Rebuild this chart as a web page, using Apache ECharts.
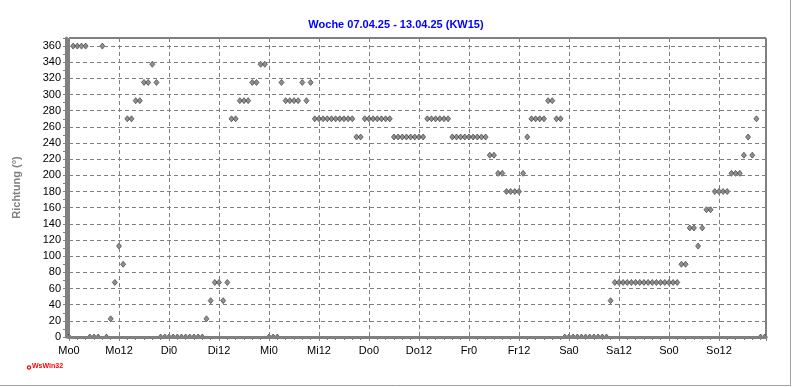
<!DOCTYPE html>
<html>
<head>
<meta charset="utf-8">
<script src="https://cdn.jsdelivr.net/npm/echarts@6/dist/echarts.min.js"></script>
<style>
html,body{margin:0;padding:0;background:#fff;}
#chart{width:792px;height:387px;}
</style>
</head>
<body>
<div id="chart"></div>
<script>
// Title and axis texts
const titleText = 'Woche 07.04.25 - 13.04.25 (KW15)';
const yAxisName = 'Richtung (°)';
// X tick labels every 12 hours (hour 0 = Mo 00:00)
const xTickLabels = ['Mo0','Mo12','Di0','Di12','Mi0','Mi12','Do0','Do12','Fr0','Fr12','Sa0','Sa12','So0','So12'];
// Hourly wind direction (°), hours 0..167
const direction = [
  0, 360, 360, 360, 360, 0, 0, 0, 360, 0,
  22.5, 67.5, 112.5, 90, 270, 270, 292.5, 292.5, 315, 315,
  337.5, 315, 0, 0, 0, 0, 0, 0, 0, 0,
  0, 0, 0, 22.5, 45, 67.5, 67.5, 45, 67.5, 270,
  270, 292.5, 292.5, 292.5, 315, 315, 337.5, 337.5, 0, 0,
  0, 315, 292.5, 292.5, 292.5, 292.5, 315, 292.5, 315, 270,
  270, 270, 270, 270, 270, 270, 270, 270, 270, 247.5,
  247.5, 270, 270, 270, 270, 270, 270, 270, 247.5, 247.5,
  247.5, 247.5, 247.5, 247.5, 247.5, 247.5, 270, 270, 270, 270,
  270, 270, 247.5, 247.5, 247.5, 247.5, 247.5, 247.5, 247.5, 247.5,
  247.5, 225, 225, 202.5, 202.5, 180, 180, 180, 180, 202.5,
  247.5, 270, 270, 270, 270, 292.5, 292.5, 270, 270, 0,
  0, 0, 0, 0, 0, 0, 0, 0, 0, 0,
  45, 67.5, 67.5, 67.5, 67.5, 67.5, 67.5, 67.5, 67.5, 67.5,
  67.5, 67.5, 67.5, 67.5, 67.5, 67.5, 67.5, 90, 90, 135,
  135, 112.5, 135, 157.5, 157.5, 180, 180, 180, 180, 202.5,
  202.5, 202.5, 225, 247.5, 225, 270, 0, 0
];

const chart = echarts.init(document.getElementById('chart'), null, {renderer: 'canvas'});
const font = '"Liberation Sans", Arial, sans-serif';
const option = {
  animation: false,
  backgroundColor: '#ffffff',
  title: {
    text: titleText,
    left: 'center',
    top: 14,
    textStyle: {color: '#0000ff', fontSize: 11, fontWeight: 'bold', fontFamily: font}
  },
  grid: {
    left: 69, right: 26, top: 38, bottom: 50,
    show: true, borderColor: '#000', borderWidth: 1, backgroundColor: '#fff'
  },
  xAxis: {
    type: 'value',
    min: 0, max: 167.3, interval: 12,
    z: 5,
    axisLine: {show: true, onZero: false, lineStyle: {color: '#808080', width: 3}},
    axisTick: {show: true, length: 4, lineStyle: {color: '#808080'}},
    minorTick: {show: true, splitNumber: 6, length: 3, lineStyle: {color: '#808080'}},
    splitLine: {show: true, lineStyle: {color: '#808080', type: [4, 3]}},
    axisLabel: {
      color: '#000', fontSize: 11, fontFamily: font, margin: 8,
      showMaxLabel: false,
      formatter: function (v) { const i = Math.round(v / 12); return xTickLabels[i] || ''; }
    }
  },
  yAxis: {
    type: 'value',
    min: 0, max: 370, interval: 20,
    offset: 3,
    z: 5,
    name: yAxisName,
    nameLocation: 'middle',
    nameGap: 44,
    nameTextStyle: {color: '#808080', fontSize: 11, fontWeight: 'bold', fontFamily: font},
    axisLine: {show: true, onZero: false, lineStyle: {color: '#808080', width: 3}},
    axisTick: {show: true, length: 3, lineStyle: {color: '#808080'}},
    minorTick: {show: true, splitNumber: 2, length: 3, lineStyle: {color: '#808080'}},
    splitLine: {show: true, lineStyle: {color: '#808080', type: [4, 3]}},
    axisLabel: {color: '#000', fontSize: 11, fontFamily: font, margin: 5, showMaxLabel: false}
  },
  series: [{
    type: 'scatter',
    symbol: 'diamond',
    symbolSize: [5, 6],
    itemStyle: {color: '#767676', borderColor: '#303030', borderWidth: 0.8},
    data: direction.map(function (v, i) { return [i, v]; })
  }],
  graphic: [
    {type: 'rect', z: 4, shape: {x: 67, y: 338.5, width: 700, height: 6}, style: {fill: '#ffffff'}},
    {type: 'line', shape: {x1: 790.5, y1: 0, x2: 790.5, y2: 386}, style: {stroke: '#a0a0a0', lineWidth: 1}},
    {type: 'line', shape: {x1: 0, y1: 385.5, x2: 791, y2: 385.5}, style: {stroke: '#a0a0a0', lineWidth: 1}},
    {type: 'circle', shape: {cx: 29, cy: 367.5, r: 1.6}, style: {fill: '#fff', stroke: '#ff0000', lineWidth: 1.2}},
    {type: 'text', left: 32, top: 363, style: {text: 'WsWin32', fill: '#ff0000', font: 'bold 7px ' + font}}
  ]
};
chart.setOption(option);
</script>
</body>
</html>
